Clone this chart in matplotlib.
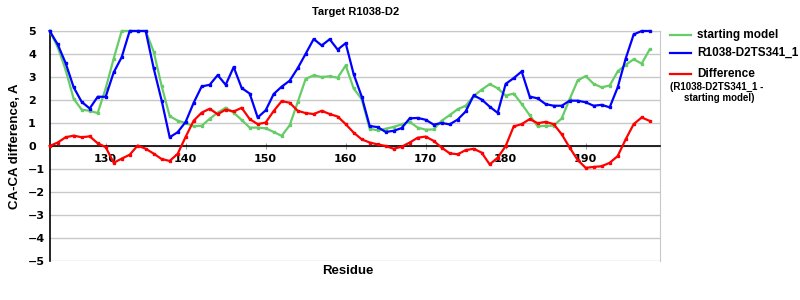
import numpy as np
import matplotlib
matplotlib.use("Agg")
import matplotlib.pyplot as plt
from matplotlib.lines import Line2D

# residue numbers
residues = list(range(123, 199))

# CA-CA difference of the starting model
starting_model = [
    5.0, 4.3, 3.3, 2.05, 1.58, 1.53, 1.43, 2.5, 3.8, 5.0,
    5.0, 5.0, 5.0, 4.1, 2.6, 1.3, 1.1, 1.0, 0.86, 0.88,
    1.18, 1.45, 1.66, 1.45, 1.13, 0.8, 0.8, 0.77, 0.61, 0.44,
    0.9, 1.9, 2.92, 3.07, 3.0, 3.03, 2.97, 3.5, 2.5, 2.04,
    0.75, 0.68, 0.75, 0.83, 0.94, 1.05, 0.8, 0.71, 0.72, 1.1,
    1.34, 1.6, 1.75, 2.17, 2.45, 2.69, 2.51, 2.19, 2.28, 1.83,
    1.34, 0.85, 0.88, 0.88, 1.2, 2.04, 2.85, 3.04, 2.7, 2.55,
    2.63, 3.24, 3.53, 3.77, 3.58, 4.2,
]

# CA-CA difference of the model R1038-D2TS341_1
model_341 = [
    5.0, 4.42, 3.6, 2.55, 1.92, 1.63, 2.14, 2.14, 3.2, 3.86,
    5.0, 5.0, 5.0, 3.38, 1.97, 0.38, 0.6, 1.05, 1.88, 2.59,
    2.66, 3.08, 2.66, 3.43, 2.52, 2.28, 1.24, 1.55, 2.26, 2.58,
    2.84, 3.38, 4.01, 4.65, 4.37, 4.64, 4.19, 4.47, 3.12, 2.15,
    0.87, 0.82, 0.61, 0.66, 0.78, 1.2, 1.22, 1.14, 0.93, 1.0,
    0.94, 1.15, 1.5, 2.2, 2.02, 1.71, 1.44, 2.7, 2.95, 3.24,
    2.15, 2.07, 1.82, 1.75, 1.75, 1.97, 1.97, 1.9, 1.75, 1.79,
    1.68, 2.55, 3.8, 4.85, 5.0, 5.0,
]

# difference (model - starting model)
difference = [
    0.0, 0.15, 0.38, 0.45, 0.38, 0.42, 0.12, -0.05, -0.73, -0.55,
    -0.38, 0.02, -0.12, -0.33, -0.57, -0.65, -0.34, 0.4, 1.1, 1.45,
    1.62, 1.38, 1.58, 1.5, 1.66, 1.17, 0.95, 1.02, 1.52, 1.95,
    1.88, 1.53, 1.43, 1.39, 1.53, 1.39, 1.28, 0.95, 0.58, 0.29,
    0.15, 0.07, 0.0, -0.12, -0.03, 0.15, 0.36, 0.41, 0.22, -0.07,
    -0.32, -0.36, -0.18, -0.12, -0.29, -0.8, -0.51, 0.0, 0.85, 0.95,
    1.17, 0.99, 1.05, 0.95, 0.51, -0.07, -0.61, -0.95, -0.91, -0.88,
    -0.73, -0.44, 0.29, 0.95, 1.24, 1.09,
]

x_ticks = [130, 140, 150, 160, 170, 180, 190]
y_ticks = list(range(-5, 6))

GREEN = '#66CC66'
BLUE = '#0000FF'
RED = '#FF0000'

fig = plt.figure(figsize=(8, 3), dpi=100)
ax = fig.add_axes([0.0621, 0.13, 0.763, 0.7667])

series = [
    (starting_model, GREEN, 'starting model'),
    (model_341, BLUE, 'R1038-D2TS341_1'),
    (difference, RED, 'Difference'),
]
for values, color, label in series:
    ax.plot(residues, values, color=color, lw=1.6, marker='s', ms=1.8,
            mec=color, mfc=color, clip_on=False, zorder=3)

ax.set_xlim(123, 199.3)
ax.set_ylim(-5, 5)
ax.set_yticks(y_ticks)
ax.set_xticks(x_ticks)
ax.grid(axis='y', color='#C8C8C8', lw=1)
ax.set_axisbelow(True)

ax.spines['bottom'].set_position(('data', 0))
ax.spines['bottom'].set_color('black')
ax.spines['bottom'].set_linewidth(1.2)
ax.spines['left'].set_color('black')
ax.spines['left'].set_linewidth(1.2)
ax.spines['top'].set_color('#C8C8C8')
ax.spines['right'].set_color('#C8C8C8')

tick_font = dict(family='DejaVu Sans', weight='bold', size=8)
# y labels sit left-aligned at a fixed column, as in the reference
ax.tick_params(axis='y', length=0, pad=15.5)
ax.tick_params(axis='x', direction='inout', length=5, color='#999999', pad=3)
for lab in ax.get_xticklabels() + ax.get_yticklabels():
    lab.set_fontproperties(tick_font)
for lab in ax.get_yticklabels():
    lab.set_horizontalalignment('left')
for lab in ax.get_xticklabels():
    lab.set_zorder(5)

label_font = dict(family='Liberation Sans', weight='bold')
fig.text(0.444, 0.96, 'Target R1038-D2', ha='center', va='center',
         fontsize=8, **label_font)
fig.text(0.435, 0.097, 'Residue', ha='center', va='center',
         fontsize=9.5, **label_font)
fig.text(0.019, 0.513, 'CA-CA difference, A', ha='center', va='center',
         rotation=90, fontsize=9.5, **label_font)

# legend
rows = [35, 53, 74]
for (values, color, label), y in zip(series, rows):
    yf = 1 - y / 300
    fig.add_artist(Line2D([670 / 800, 691 / 800], [yf, yf], color=color, lw=1.6,
                          transform=fig.transFigure))
    fig.text(697 / 800, yf, label, ha='left', va='center', fontsize=8.5, **label_font)
fig.text(670 / 800, 1 - 87 / 300, '(R1038-D2TS341_1 -', ha='left', va='center',
         fontsize=7, **label_font)
fig.text(684 / 800, 1 - 98 / 300, 'starting model)', ha='left', va='center',
         fontsize=7, **label_font)

fig.savefig('out.png', dpi=100)
